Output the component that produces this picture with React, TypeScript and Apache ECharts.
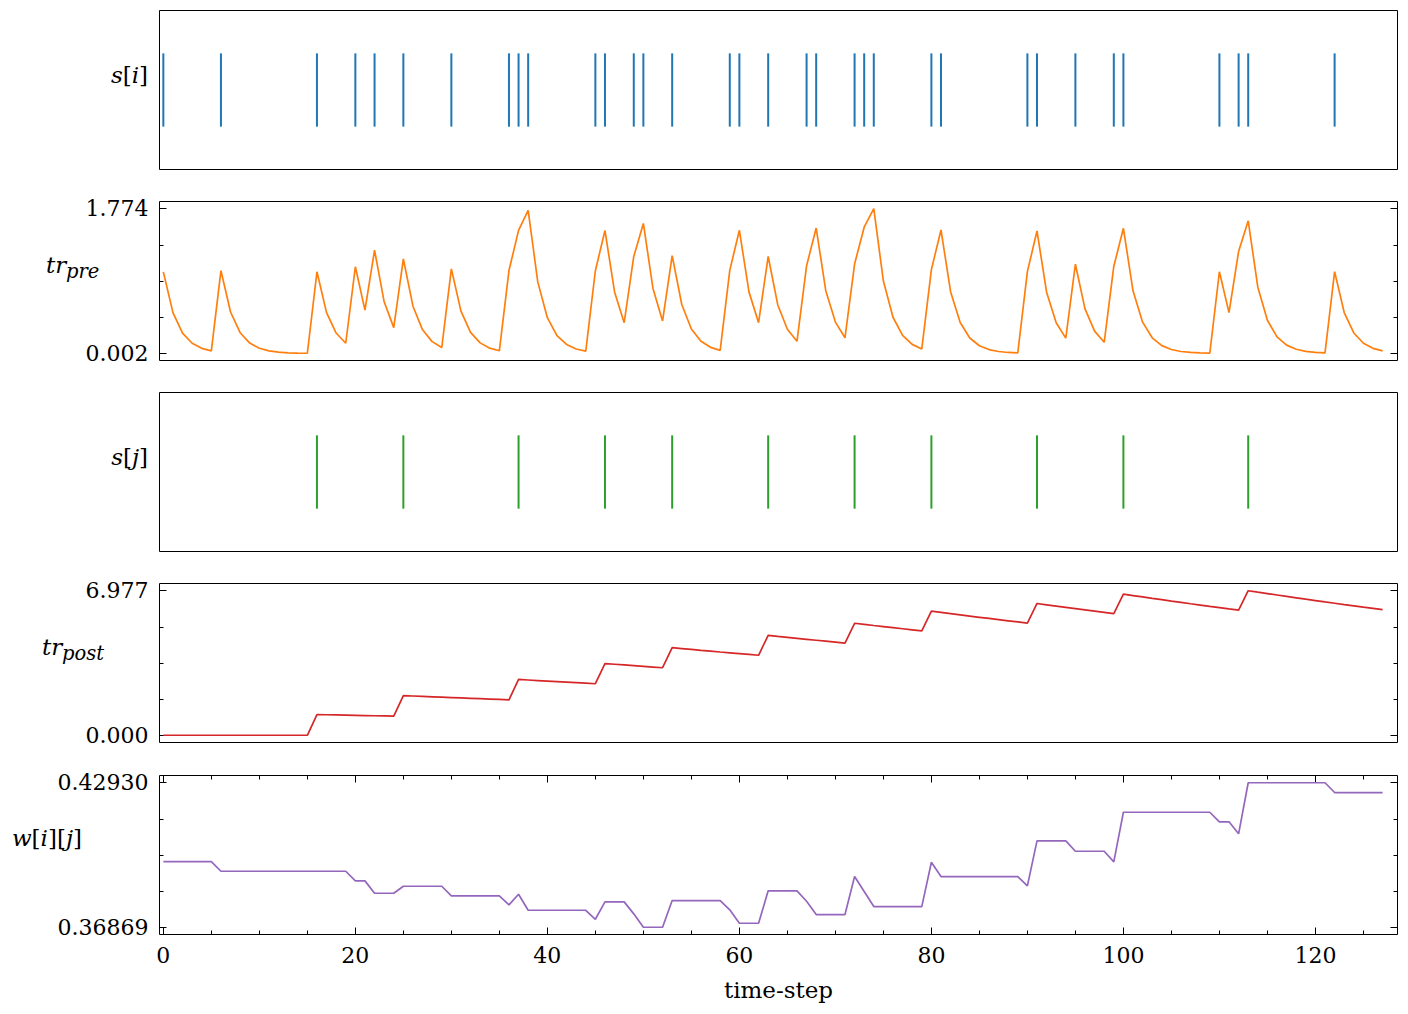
import React, { useEffect, useRef } from "react";
import * as echarts from "echarts";

// ---------------- data ----------------
const timeSteps = 128;
const preSpikes = [0, 6, 16, 20, 22, 25, 30, 36, 37, 38, 45, 46, 49, 50, 53, 59, 60, 63, 67, 68, 72, 73, 74, 80, 81, 90, 91, 95, 99, 100, 110, 112, 113, 122];
const postSpikes = [16, 25, 37, 46, 53, 63, 72, 80, 91, 100, 113];

const trPre = [
  1.0000, 0.5000, 0.2500, 0.1250, 0.0625, 0.0313, 1.0156, 0.5078, 0.2539, 0.1270,
  0.0635, 0.0317, 0.0159, 0.0079, 0.0040, 0.0020, 1.0010, 0.5005, 0.2502, 0.1251,
  1.0626, 0.5313, 1.2656, 0.6328, 0.3164, 1.1582, 0.5791, 0.2896, 0.1448, 0.0724,
  1.0362, 0.5181, 0.2590, 0.1295, 0.0648, 0.0324, 1.0162, 1.5081, 1.7540, 0.8770,
  0.4385, 0.2193, 0.1096, 0.0548, 0.0274, 1.0137, 1.5069, 0.7534, 0.3767, 1.1884,
  1.5942, 0.7971, 0.3985, 1.1993, 0.5996, 0.2998, 0.1499, 0.0750, 0.0375, 1.0187,
  1.5094, 0.7547, 0.3773, 1.1887, 0.5943, 0.2972, 0.1486, 1.0743, 1.5371, 0.7686,
  0.3843, 0.1921, 1.0961, 1.5480, 1.7740, 0.8870, 0.4435, 0.2218, 0.1109, 0.0554,
  1.0277, 1.5139, 0.7569, 0.3785, 0.1892, 0.0946, 0.0473, 0.0237, 0.0118, 0.0059,
  1.0030, 1.5015, 0.7507, 0.3754, 0.1877, 1.0938, 0.5469, 0.2735, 0.1367, 1.0684,
  1.5342, 0.7671, 0.3835, 0.1918, 0.0959, 0.0479, 0.0240, 0.0120, 0.0060, 0.0030,
  1.0015, 0.5007, 1.2504, 1.6252, 0.8126, 0.4063, 0.2031, 0.1016, 0.0508, 0.0254,
  0.0127, 0.0063, 1.0032, 0.5016, 0.2508, 0.1254, 0.0627, 0.0313,
];

const trPost = [
  0, 0, 0, 0, 0, 0, 0, 0, 0, 0,
  0, 0, 0, 0, 0, 0, 1.0000, 0.9900, 0.9801, 0.9703,
  0.9606, 0.9510, 0.9415, 0.9321, 0.9227, 1.9135, 1.8944, 1.8754, 1.8567, 1.8381,
  1.8197, 1.8015, 1.7835, 1.7657, 1.7480, 1.7306, 1.7132, 2.6961, 2.6692, 2.6425,
  2.6160, 2.5899, 2.5640, 2.5383, 2.5130, 2.4878, 3.4629, 3.4283, 3.3940, 3.3601,
  3.3265, 3.2932, 3.2603, 4.2277, 4.1854, 4.1436, 4.1021, 4.0611, 4.0205, 3.9803,
  3.9405, 3.9011, 3.8621, 4.8234, 4.7752, 4.7275, 4.6802, 4.6334, 4.5871, 4.5412,
  4.4958, 4.4508, 5.4063, 5.3522, 5.2987, 5.2457, 5.1933, 5.1413, 5.0899, 5.0390,
  5.9886, 5.9288, 5.8695, 5.8108, 5.7527, 5.6951, 5.6382, 5.5818, 5.5260, 5.4707,
  5.4160, 6.3619, 6.2982, 6.2353, 6.1729, 6.1112, 6.0501, 5.9896, 5.9297, 5.8704,
  6.8117, 6.7435, 6.6761, 6.6094, 6.5433, 6.4778, 6.4130, 6.3489, 6.2854, 6.2226,
  6.1603, 6.0987, 6.0378, 6.9774, 6.9076, 6.8385, 6.7701, 6.7024, 6.6354, 6.5691,
  6.5034, 6.4383, 6.3740, 6.3102, 6.2471, 6.1846, 6.1228, 6.0616,
];

const wVals = [
  0.39625, 0.39625, 0.39625, 0.39625, 0.39625, 0.39625, 0.39218, 0.39218, 0.39218, 0.39218,
  0.39218, 0.39218, 0.39218, 0.39218, 0.39218, 0.39218, 0.39218, 0.39218, 0.39218, 0.39218,
  0.38815, 0.38815, 0.38295, 0.38295, 0.38295, 0.38589, 0.38589, 0.38589, 0.38589, 0.38589,
  0.38186, 0.38186, 0.38186, 0.38186, 0.38186, 0.38186, 0.37808, 0.38253, 0.37582, 0.37582,
  0.37582, 0.37582, 0.37582, 0.37582, 0.37582, 0.37204, 0.37934, 0.37934, 0.37934, 0.37431,
  0.36869, 0.36869, 0.36869, 0.37989, 0.37989, 0.37989, 0.37989, 0.37989, 0.37989, 0.37599,
  0.37037, 0.37037, 0.37037, 0.38396, 0.38396, 0.38396, 0.38396, 0.37960, 0.37402, 0.37402,
  0.37402, 0.37402, 0.38996, 0.38366, 0.37737, 0.37737, 0.37737, 0.37737, 0.37737, 0.37737,
  0.39595, 0.38996, 0.38996, 0.38996, 0.38996, 0.38996, 0.38996, 0.38996, 0.38996, 0.38996,
  0.38605, 0.40493, 0.40493, 0.40493, 0.40493, 0.40057, 0.40057, 0.40057, 0.40057, 0.39612,
  0.41693, 0.41693, 0.41693, 0.41693, 0.41693, 0.41693, 0.41693, 0.41693, 0.41693, 0.41693,
  0.41290, 0.41290, 0.40787, 0.42930, 0.42930, 0.42930, 0.42930, 0.42930, 0.42930, 0.42930,
  0.42930, 0.42930, 0.42519, 0.42519, 0.42519, 0.42519, 0.42519, 0.42519,
];

// tick values / labels
const xMajorTicks = [0, 20, 40, 60, 80, 100, 120];
const xTickLabels = ["0", "20", "40", "60", "80", "100", "120"];
const xMinorTicks = [5, 10, 15, 25, 30, 35, 45, 50, 55, 65, 70, 75, 85, 90, 95, 105, 110, 115, 125];

const preTicks = [0.002, 1.774];
const preTickLabels = ["0.002", "1.774"];
const preMinor = [0.445, 0.888, 1.331];

const postTicks = [0.0, 6.977];
const postTickLabels = ["0.000", "6.977"];
const postMinor = [1.74425, 3.4885, 5.23275];

const wTicks = [0.36869, 0.4293];
const wTickLabels = ["0.36869", "0.42930"];
const wMinor = [0.3838425, 0.398995, 0.4141475];

// ---------------- layout / style ----------------
const W = 1408;
const H = 1014;
const LEFT = 159.5;
const RIGHT_EDGE = 1397.5;
const PANEL_H = 159;
const panelTops = [10.5, 201.5, 392.5, 583.5, 775.5];
const XMIN = -0.4;
const XMAX = 128.55;
const SPIKE_LO = 0.5;
const SPIKE_HI = 1.5;
const FONT = '"DejaVu Serif", serif';
const FS = 22;
const LFS = 23;
const SFS = 19.5;

const yRanges: [number, number][] = [
  [-0.085, 2.085],
  [0.002 - 0.0886, 1.774 + 0.0886],
  [-0.085, 2.085],
  [-0.34885, 6.977 + 0.34885],
  [0.36869 - 0.0030305, 0.4293 + 0.0030305],
];

const C_BLUE = "#1f77b4";
const C_ORANGE = "#ff7f0e";
const C_GREEN = "#2ca02c";
const C_RED = "#d62728";
const C_PURPLE = "#9467bd";

function baseAxis(gridIndex: number, min: number, max: number) {
  return {
    type: "value",
    gridIndex,
    min,
    max,
    axisLine: { show: false, onZero: false },
    axisTick: { show: false },
    axisLabel: { show: false },
    splitLine: { show: false },
  };
}

function tickAxis(
  gridIndex: number,
  position: string,
  min: number,
  max: number,
  values: number[],
  len: number,
  labelVals?: number[],
  labels?: string[],
  margin?: number
) {
  const ax: any = {
    type: "value",
    gridIndex,
    position,
    offset: 0,
    min,
    max,
    axisLine: { show: false, onZero: false },
    splitLine: { show: false },
    axisTick: {
      show: true,
      inside: true,
      length: len,
      customValues: values,
      lineStyle: { color: "#000", width: 1 },
    },
    axisLabel: { show: false },
  };
  if (labelVals && labels) {
    ax.axisLabel = {
      show: true,
      customValues: labelVals,
      margin: margin ?? 10,
      color: "#000",
      fontFamily: FONT,
      fontSize: FS,
      formatter: (v: number) => {
        const i = labelVals.findIndex((x) => Math.abs(x - v) < 1e-9);
        return i >= 0 ? labels[i] : "";
      },
    };
  }
  return ax;
}

function buildOption() {
  const grids = panelTops.map((t) => ({
    left: LEFT,
    top: t,
    width: RIGHT_EDGE - LEFT,
    height: PANEL_H,
    show: true,
    borderColor: "#000",
    borderWidth: 1,
    backgroundColor: "transparent",
    containLabel: false,
  }));

  const xAxes: any[] = [];
  const yAxes: any[] = [];
  for (let g = 0; g < 5; g++) {
    xAxes.push(baseAxis(g, XMIN, XMAX));
    yAxes.push(baseAxis(g, yRanges[g][0], yRanges[g][1]));
  }

  // x ticks on the bottom panel (bottom + top, major + minor)
  const xBottomMajor = tickAxis(4, "bottom", XMIN, XMAX, xMajorTicks, 7, xMajorTicks, xTickLabels, 10);
  xBottomMajor.name = "time-step";
  xBottomMajor.nameLocation = "middle";
  xBottomMajor.nameGap = 44;
  xBottomMajor.nameTextStyle = { fontFamily: FONT, fontSize: 23, color: "#000" };
  xAxes.push(xBottomMajor);
  xAxes.push(tickAxis(4, "bottom", XMIN, XMAX, xMinorTicks, 4));
  xAxes.push(tickAxis(4, "top", XMIN, XMAX, xMajorTicks, 7));
  xAxes.push(tickAxis(4, "top", XMIN, XMAX, xMinorTicks, 4));

  // y ticks for panels 2, 4, 5
  const yTickSets: [number, number[], string[], number[]][] = [
    [1, preTicks, preTickLabels, preMinor],
    [3, postTicks, postTickLabels, postMinor],
    [4, wTicks, wTickLabels, wMinor],
  ];
  for (const [g, majors, labels, minors] of yTickSets) {
    const [mn, mx] = yRanges[g];
    yAxes.push(tickAxis(g, "left", mn, mx, majors, 7, majors, labels, 11));
    yAxes.push(tickAxis(g, "left", mn, mx, minors, 4));
    yAxes.push(tickAxis(g, "right", mn, mx, majors, 7));
    yAxes.push(tickAxis(g, "right", mn, mx, minors, 4));
  }

  const spikeSeries = (spikes: number[], idx: number, color: string) => ({
    type: "custom",
    xAxisIndex: idx,
    yAxisIndex: idx,
    silent: true,
    data: spikes.map((t) => [t, SPIKE_LO, SPIKE_HI]),
    encode: { x: 0, y: [1, 2] },
    renderItem: (_p: any, api: any) => {
      const p1 = api.coord([api.value(0), api.value(1)]);
      const p2 = api.coord([api.value(0), api.value(2)]);
      return {
        type: "line",
        shape: { x1: p1[0], y1: p1[1], x2: p2[0], y2: p2[1] },
        style: { stroke: color, lineWidth: 2 },
      };
    },
  });

  const lineSeries = (vals: number[], idx: number, color: string) => ({
    type: "line",
    xAxisIndex: idx,
    yAxisIndex: idx,
    silent: true,
    showSymbol: false,
    symbol: "none",
    data: vals.slice(0, timeSteps).map((v, i) => [i, v]),
    lineStyle: { color, width: 1.7 },
    itemStyle: { color },
  });

  const series = [
    spikeSeries(preSpikes, 0, C_BLUE),
    lineSeries(trPre, 1, C_ORANGE),
    spikeSeries(postSpikes, 2, C_GREEN),
    lineSeries(trPost, 3, C_RED),
    lineSeries(wVals, 4, C_PURPLE),
  ];

  const txt = (x: number, y: number, text: string, align: string, size: number, rich?: any, italic?: boolean) => ({
    type: "text",
    x,
    y,
    silent: true,
    style: {
      text,
      font: `${italic ? "italic " : ""}${size}px ${FONT}`,
      fill: "#000",
      align,
      textAlign: align,
      verticalAlign: "middle",
      textVerticalAlign: "middle",
      rich,
    },
  });

  const itRich = {
    i: { fontStyle: "italic", fontFamily: FONT, fontSize: LFS, color: "#000" },
    n: { fontFamily: FONT, fontSize: LFS, color: "#000" },
  };

  const graphic = [
    txt(148, 75, "{i|s}{n|[}{i|i}{n|]}", "right", LFS, itRich),
    txt(46, 265, "tr", "left", LFS, undefined, true),
    txt(66, 271, "pre", "left", SFS, undefined, true),
    txt(148, 456.5, "{i|s}{n|[}{i|j}{n|]}", "right", LFS, itRich),
    txt(42, 647, "tr", "left", LFS, undefined, true),
    txt(62, 653, "post", "left", SFS, undefined, true),
    txt(82, 838, "{i|w}{n|[}{i|i}{n|][}{i|j}{n|]}", "right", LFS, itRich),
  ];

  return {
    animation: false,
    backgroundColor: "#ffffff",
    grid: grids,
    xAxis: xAxes,
    yAxis: yAxes,
    series,
    graphic,
  };
}

export default function App() {
  const ref = useRef<HTMLDivElement>(null);
  useEffect(() => {
    if (!ref.current) return;
    const chart = echarts.init(ref.current, undefined, { renderer: "svg", width: W, height: H });
    chart.setOption(buildOption() as any);
    return () => chart.dispose();
  }, []);
  return (
    <div
      ref={ref}
      style={{ position: "fixed", left: 0, top: 0, width: W, height: H, background: "#fff" }}
    />
  );
}
